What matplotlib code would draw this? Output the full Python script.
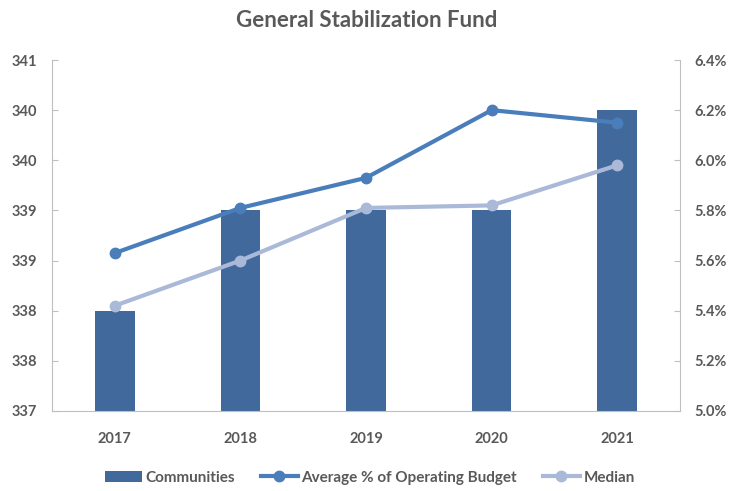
import numpy as np
import matplotlib
matplotlib.use("Agg")
import matplotlib.pyplot as plt
from matplotlib.ticker import FuncFormatter, MultipleLocator
from matplotlib.patches import Patch
from matplotlib.lines import Line2D

plt.rcParams['font.family'] = ['Lato', 'DejaVu Sans']

years = ['2017', '2018', '2019', '2020', '2021']
communities = [338, 339, 339, 339, 340]
avg_pct = [5.63, 5.81, 5.93, 6.20, 6.15]
median_pct = [5.42, 5.60, 5.81, 5.82, 5.98]

bar_color = '#41699c'
avg_color = '#4a7ebb'
med_color = '#abb9d9'
text_color = '#595959'
axis_color = '#bfbfbf'

fig = plt.figure(figsize=(7.31, 4.91), dpi=100)
ax = fig.add_axes([52/731, 1 - 411/491, (680 - 52)/731, (411 - 60)/491])
ax2 = ax.twinx()

x = np.arange(len(years))
ax.bar(x, communities, width=0.315, color=bar_color, zorder=2)
ax.set_ylim(337, 340.5)
ax.yaxis.set_major_locator(MultipleLocator(0.5))
# excel style rounding of the half steps
ax.yaxis.set_major_formatter(FuncFormatter(lambda v, p: '%d' % int(np.floor(v + 0.5))))
ax.set_xlim(-0.5, 4.5)
ax.set_xticks(x)
ax.set_xticklabels(years)

ax2.plot(x, avg_pct, color=avg_color, lw=3, marker='o', ms=7.5, zorder=3)
ax2.plot(x, median_pct, color=med_color, lw=3, marker='o', ms=7.5, zorder=3)
ax2.set_ylim(5.0, 6.4)
ax2.yaxis.set_major_locator(MultipleLocator(0.2))
ax2.yaxis.set_major_formatter(FuncFormatter(lambda v, p: '%.1f%%' % v))

for a in (ax, ax2):
    for s in a.spines.values():
        s.set_visible(False)
    a.tick_params(colors=text_color, labelsize=10.5)
    for lab in a.get_yticklabels() + a.get_xticklabels():
        lab.set_fontweight('bold')
        lab.set_color(text_color)

ax.spines['left'].set_visible(True)
ax.spines['left'].set_color(axis_color)
ax.spines['bottom'].set_visible(True)
ax.spines['bottom'].set_color(axis_color)
ax2.spines['right'].set_visible(True)
ax2.spines['right'].set_color(axis_color)

ax.tick_params(axis='y', direction='in', length=4, color=axis_color, pad=11)
ax.tick_params(axis='x', length=0, pad=15)
ax2.tick_params(axis='y', direction='in', length=4, color=axis_color, pad=10.5)

fig.text(0.502, 0.958, 'General Stabilization Fund', ha='center', va='center',
         fontsize=16, fontweight='bold', color=text_color)

handles = [
    Patch(facecolor=bar_color),
    Line2D([], [], color=avg_color, lw=3, marker='o', ms=7.5),
    Line2D([], [], color=med_color, lw=3, marker='o', ms=7.5),
]
labels = ['Communities', 'Average % of Operating Budget', 'Median']
leg = fig.legend(handles, labels, loc='center', bbox_to_anchor=(0.506, 0.027),
                 ncol=3, frameon=False, fontsize=11, handlelength=2.4,
                 handletextpad=0.25, columnspacing=1.7)
for t in leg.get_texts():
    t.set_color(text_color)
    t.set_fontweight('bold')

fig.savefig('out.png', dpi=100)
